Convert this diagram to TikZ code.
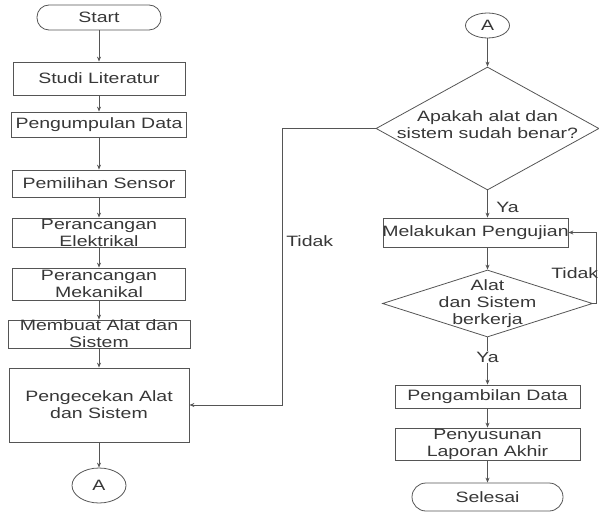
\documentclass[tikz,border=0pt]{standalone}
\usepackage{fontspec}
\setmainfont{Liberation Sans}
\usetikzlibrary{shapes.geometric,arrows.meta}
\definecolor{linec}{RGB}{85,85,85}
\definecolor{textc}{RGB}{55,55,55}
\tikzset{
  txt/.style={font=\fontsize{15}{17}\selectfont, text=textc, align=center, xscale=1.3, inner sep=0pt},
  proc/.style={draw=linec, line width=0.8pt, inner sep=0pt},
  term/.style={proc, rounded corners=12pt},
  conn/.style={proc, ellipse},
  decide/.style={proc, diamond},
  arr/.style={draw=linec, line width=0.8pt, -{Stealth[length=5pt,width=4pt]}}
}
\begin{document}
\begin{tikzpicture}[x=1pt,y=-1pt]
  \useasboundingbox (0,0) rectangle (599,513);
  % left column
  \node[term, minimum width=124pt, minimum height=25pt, label={[txt]center:Start}] (start) at (99,17.5) {};
  \node[proc, minimum width=172pt, minimum height=33pt, label={[txt]center:Studi Literatur}] (studi) at (99,78.5) {};
  \node[proc, minimum width=175pt, minimum height=25pt, label={[txt]center:Pengumpulan Data}] (kumpul) at (99,124.5) {};
  \node[proc, minimum width=173pt, minimum height=27pt, label={[txt]center:Pemilihan Sensor}] (sensor) at (99,183.5) {};
  \node[proc, minimum width=173pt, minimum height=29pt, label={[txt]center:{Perancangan\\Elektrikal}}] (elektrik) at (99,232.5) {};
  \node[proc, minimum width=173pt, minimum height=32pt, label={[txt]center:{Perancangan\\Mekanikal}}] (mekanik) at (99,284) {};
  \node[proc, minimum width=182pt, minimum height=28pt, label={[txt]center:{Membuat Alat dan\\Sistem}}] (buat) at (99,334) {};
  \node[proc, minimum width=180pt, minimum height=74pt, label={[txt]center:{Pengecekan Alat\\dan Sistem}}] (cek) at (99,405) {};
  \node[conn, minimum width=54pt, minimum height=35pt, label={[txt]center:A}] (a1) at (99,485.5) {};
  \foreach \a/\b in {start/studi, studi/kumpul, kumpul/sensor, sensor/elektrik,
                     elektrik/mekanik, mekanik/buat, buat/cek, cek/a1}
    \draw[arr] (\a) -- (\b);

  % right column
  \node[conn, minimum width=44pt, minimum height=25pt, label={[txt]center:A}] (a2) at (487.5,25.5) {};
  \node[decide, minimum width=223pt, minimum height=123pt,
        label={[txt, yshift=4pt]center:{Apakah alat dan\\sistem sudah benar?}}] (d1) at (487.5,128.5) {};
  \node[proc, minimum width=185pt, minimum height=29pt, label={[txt]center:Melakukan Pengujian}] (uji) at (475.5,232.5) {};
  \node[decide, minimum width=210pt, minimum height=67pt,
        label={[txt]center:{Alat\\dan Sistem\\berkerja}}] (d2) at (487.5,303.5) {};
  \node[proc, minimum width=185pt, minimum height=23pt, label={[txt]center:Pengambilan Data}] (ambil) at (487.5,396.5) {};
  \node[proc, minimum width=185pt, minimum height=32pt, label={[txt]center:{Penyusunan\\Laporan Akhir}}] (susun) at (487.5,444) {};
  \node[term, minimum width=151pt, minimum height=28pt, rounded corners=14pt, label={[txt]center:Selesai}] (selesai) at (487.5,497) {};

  \draw[arr] (a2) -- (d1);
  \draw[arr] (d1) -- (d1 |- uji.north);
  \node[txt, anchor=west] (ya1) at (496,207) {Ya};
  \draw[arr] (uji.south -| d2) -- (d2);
  \draw[arr] (d2) -- node[txt, fill=white, inner sep=1pt, pos=0.42] (ya2) {Ya} (ambil);
  \draw[arr] (ambil) -- (susun);
  \draw[arr] (susun) -- (selesai);

  % back loops
  \draw[arr] (d1.west) -- ++(-93,0) |- (cek.east);
  \node[txt, anchor=west] (tidak1) at (286,241) {Tidak};
  \draw[arr] (d2.east) -- ++(3,0) |- (uji.east);
  \node[txt, anchor=west] (tidak2) at (551,273) {Tidak};
\end{tikzpicture}
\end{document}
